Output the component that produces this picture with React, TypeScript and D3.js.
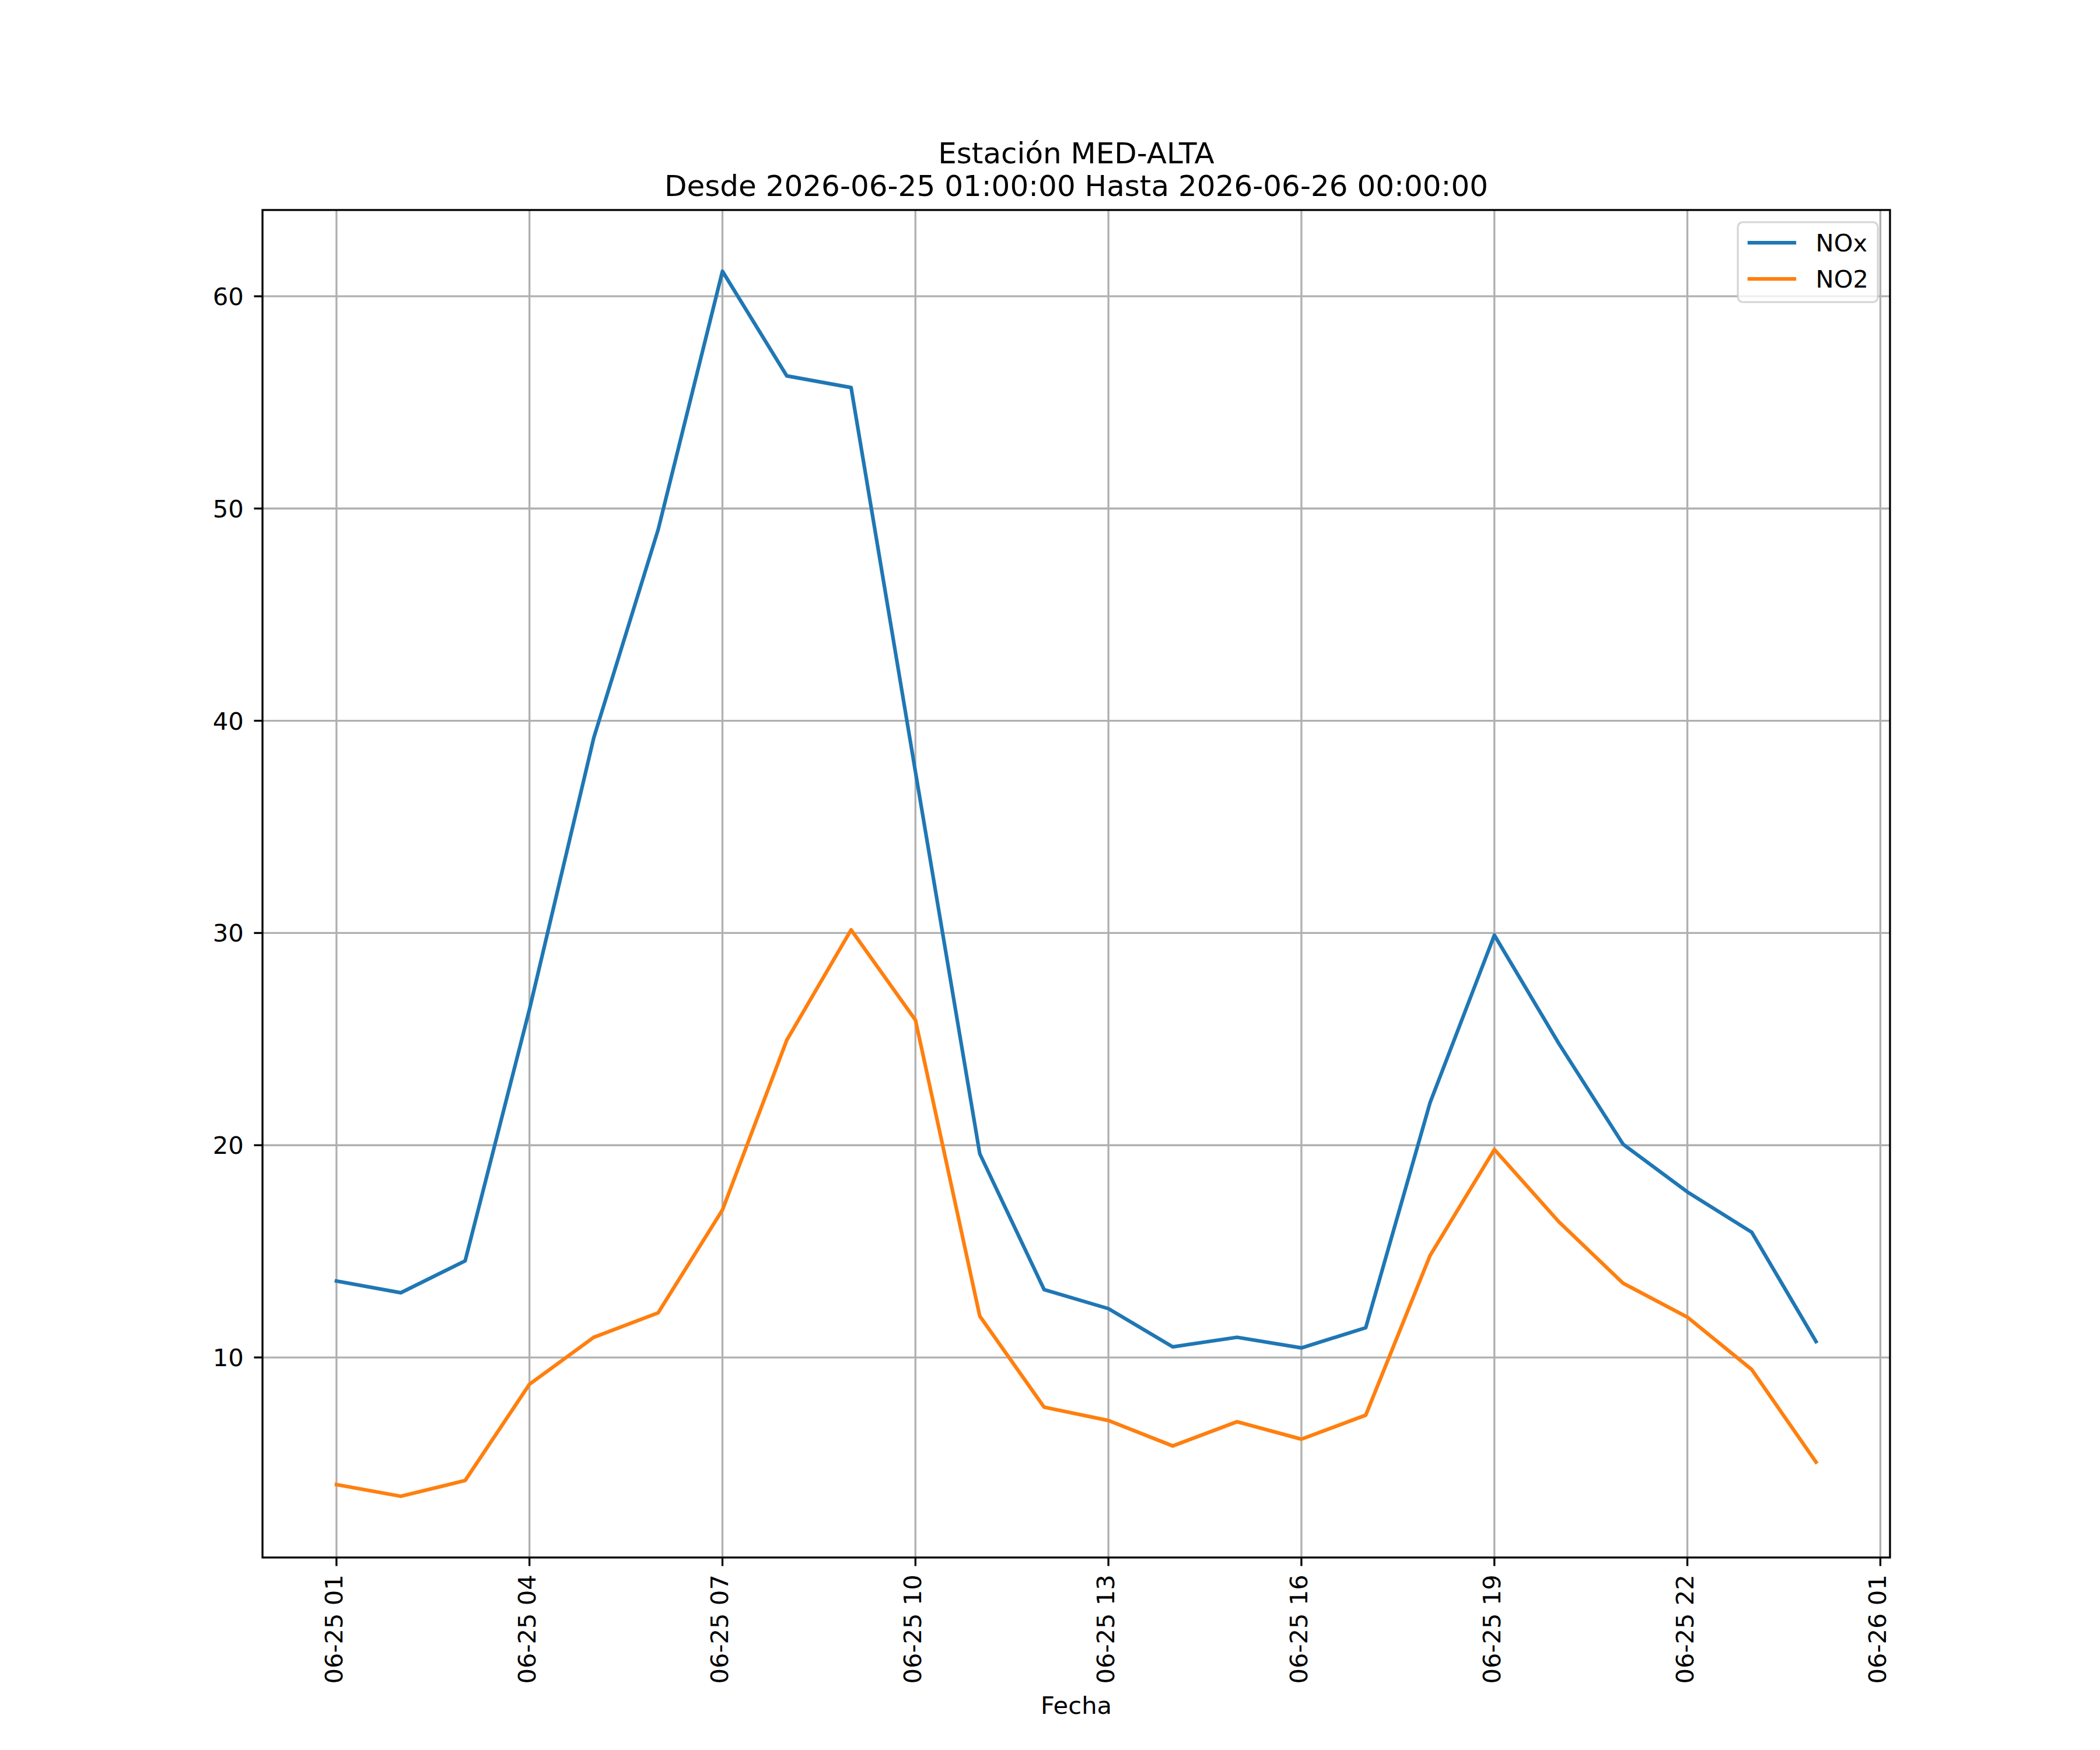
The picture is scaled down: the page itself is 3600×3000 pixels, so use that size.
import React from 'react';
import * as d3 from 'd3';

const times = [
  '2026-06-25 01:00', '2026-06-25 02:00', '2026-06-25 03:00', '2026-06-25 04:00',
  '2026-06-25 05:00', '2026-06-25 06:00', '2026-06-25 07:00', '2026-06-25 08:00',
  '2026-06-25 09:00', '2026-06-25 10:00', '2026-06-25 11:00', '2026-06-25 12:00',
  '2026-06-25 13:00', '2026-06-25 14:00', '2026-06-25 15:00', '2026-06-25 16:00',
  '2026-06-25 17:00', '2026-06-25 18:00', '2026-06-25 19:00', '2026-06-25 20:00',
  '2026-06-25 21:00', '2026-06-25 22:00', '2026-06-25 23:00', '2026-06-26 00:00'
];

const noxValues = [
  13.6, 13.05, 14.55, 26.4, 39.2, 49.0, 61.18, 56.25,
  55.7, 37.6, 19.6, 13.2, 12.3, 10.5, 10.95, 10.45,
  11.4, 22.0, 29.9, 24.8, 20.05, 17.8, 15.9, 10.75
];

const no2Values = [
  4.01, 3.46, 4.2, 8.74, 10.95, 12.1, 16.95, 24.95,
  30.15, 25.9, 11.95, 7.66, 7.03, 5.83, 6.97, 6.15,
  7.28, 14.8, 19.8, 16.4, 13.5, 11.9, 9.43, 5.07
];

const seriesNames = ['NOx', 'NO2'];
const seriesColors = ['#1f77b4', '#ff7f0e'];
const yTicks = [10, 20, 30, 40, 50, 60];

const titleLines = ['Estación MED-ALTA', 'Desde 2026-06-25 01:00:00 Hasta 2026-06-26 00:00:00'];
const xLabel = 'Fecha';

const App: React.FC = () => {
  const svgRef = React.useRef<SVGSVGElement>(null);
  const width = 3600;
  const height = 3000;

  React.useEffect(() => {
    if (!svgRef.current) return;
    d3.select(svgRef.current).selectAll('*').remove();

    const svg = d3.select(svgRef.current);
    const font = 'DejaVu Sans, sans-serif';
    const margin = { top: 360, right: 360, bottom: 330, left: 450 };
    const w = width - margin.left - margin.right;
    const h = height - margin.top - margin.bottom;
    const fs = 41.67;
    const tickLen = 14.6;

    const parse = d3.timeParse('%Y-%m-%d %H:%M');
    const dates = times.map(t => parse(t) as Date);
    const series = [noxValues, no2Values];

    // dominio con 5% de margen como matplotlib
    const t0 = +dates[0];
    const t1 = +dates[dates.length - 1];
    const tPad = (t1 - t0) * 0.05;
    const x = d3.scaleTime()
      .domain([new Date(t0 - tPad), new Date(t1 + tPad)])
      .range([0, w]);

    const allVals = noxValues.concat(no2Values);
    const vMin = d3.min(allVals) || 0;
    const vMax = d3.max(allVals) || 0;
    const vPad = (vMax - vMin) * 0.05;
    const y = d3.scaleLinear()
      .domain([vMin - vPad, vMax + vPad])
      .range([h, 0]);

    svg.append('rect').attr('width', width).attr('height', height).attr('fill', '#fff');

    const g = svg.append('g')
      .attr('transform', `translate(${margin.left},${margin.top})`);

    const xTicks = d3.timeHour.range(dates[0], new Date(t1 + tPad), 3);
    const fmt = d3.timeFormat('%m-%d %H');

    // grid
    g.append('g').selectAll('line')
      .data(xTicks)
      .enter().append('line')
      .attr('x1', d => x(d)).attr('x2', d => x(d))
      .attr('y1', 0).attr('y2', h)
      .attr('stroke', '#b0b0b0').attr('stroke-width', 3.33);

    g.append('g').selectAll('line')
      .data(yTicks)
      .enter().append('line')
      .attr('x1', 0).attr('x2', w)
      .attr('y1', d => y(d)).attr('y2', d => y(d))
      .attr('stroke', '#b0b0b0').attr('stroke-width', 3.33);

    // líneas
    const line = d3.line<number>()
      .x((_, i) => x(dates[i]))
      .y(d => y(d));

    series.forEach((vals, i) => {
      g.append('path')
        .datum(vals)
        .attr('d', line)
        .attr('fill', 'none')
        .attr('stroke', seriesColors[i])
        .attr('stroke-width', 6.25)
        .attr('stroke-linejoin', 'round')
        .attr('stroke-linecap', 'square');
    });

    // marco
    g.append('rect')
      .attr('width', w).attr('height', h)
      .attr('fill', 'none').attr('stroke', '#000').attr('stroke-width', 3.33)
      .attr('stroke-linejoin', 'miter');

    // ticks X
    const xt = g.append('g').selectAll('g')
      .data(xTicks)
      .enter().append('g')
      .attr('transform', d => `translate(${x(d)},${h})`);
    xt.append('line').attr('y1', 0).attr('y2', tickLen).attr('stroke', '#000').attr('stroke-width', 3.33);
    xt.append('text')
      .attr('transform', `translate(10,${tickLen + 14.6}) rotate(-90)`)
      .attr('text-anchor', 'end')
      .attr('font-family', font)
      .attr('font-size', fs)
      .attr('fill', '#000')
      .text(d => fmt(d));

    // ticks Y
    const yt = g.append('g').selectAll('g')
      .data(yTicks)
      .enter().append('g')
      .attr('transform', d => `translate(0,${y(d)})`);
    yt.append('line').attr('x1', 0).attr('x2', -tickLen).attr('stroke', '#000').attr('stroke-width', 3.33);
    yt.append('text')
      .attr('x', -tickLen - 14.6 - 3)
      .attr('dy', '0.36em')
      .attr('text-anchor', 'end')
      .attr('font-family', font)
      .attr('font-size', fs)
      .attr('fill', '#000')
      .text(d => d);

    // eje X título
    svg.append('text')
      .attr('x', margin.left + w / 2)
      .attr('y', 2938)
      .attr('text-anchor', 'middle')
      .attr('font-family', font)
      .attr('font-size', fs)
      .attr('fill', '#000')
      .text(xLabel);

    // título
    titleLines.forEach((t, i) => {
      svg.append('text')
        .attr('x', margin.left + w / 2)
        .attr('y', 280 + i * 56)
        .attr('text-anchor', 'middle')
        .attr('font-family', font)
        .attr('font-size', 50)
        .attr('fill', '#000')
        .text(t);
    });

    // leyenda
    const legRight = w - 0.5 * fs;
    const legTop = 0.5 * fs;
    const legW = 240;
    const legH = 137;
    const leg = g.append('g');
    leg.append('rect')
      .attr('x', legRight - legW).attr('y', legTop)
      .attr('width', legW).attr('height', legH)
      .attr('rx', 8.3)
      .attr('fill', 'rgba(255,255,255,0.8)')
      .attr('stroke', '#cccccc').attr('stroke-opacity', 0.8)
      .attr('stroke-width', 3.33);
    seriesNames.forEach((name, i) => {
      const ly = 56 + i * 62;
      const hx0 = legRight - legW + 0.4 * fs;
      leg.append('line')
        .attr('x1', hx0).attr('x2', hx0 + 2 * fs)
        .attr('y1', ly).attr('y2', ly)
        .attr('stroke', seriesColors[i]).attr('stroke-width', 6.25);
      leg.append('text')
        .attr('x', hx0 + 2.8 * fs)
        .attr('y', ly)
        .attr('dy', '0.36em')
        .attr('font-family', font)
        .attr('font-size', fs)
        .attr('fill', '#000')
        .text(name);
    });
  }, []);

  return (
    <svg
      ref={svgRef}
      width={width}
      height={height}
      style={{ display: 'block', position: 'absolute', left: 0, top: 0 }}
    />
  );
};

export default App;
